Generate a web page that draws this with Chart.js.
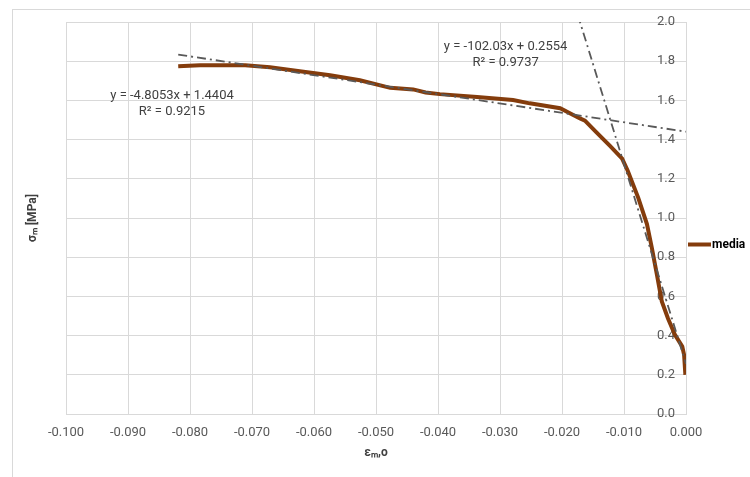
<!DOCTYPE html>
<html>
<head>
<meta charset="utf-8">
<script src="https://cdn.jsdelivr.net/npm/chart.js@4.4.1/dist/chart.umd.min.js"></script>
<style>
  html, body { margin: 0; padding: 0; background: #fff; overflow: hidden; }
  #wrap { position: relative; width: 750px; height: 477px; }
  #frame { position: absolute; left: 12px; top: 9px; width: 800px; height: 500px; border: 1px solid #d9d9d9; }
  canvas { position: absolute; left: 0; top: 0; }
</style>
</head>
<body>
<div id="wrap">
  <div id="frame"></div>
  <canvas id="chart" width="750" height="477"></canvas>
</div>
<script>
// measured curve "media" (strain, stress)
const strain = [-0.0819, -0.0784, -0.0711, -0.0671, -0.0623, -0.0574, -0.0526, -0.0477, -0.0440, -0.0420, -0.0397, -0.0337, -0.0279, -0.0252, -0.0203, -0.0171, -0.0163, -0.0144, -0.0123, -0.0103, -0.0094, -0.0077, -0.0063, -0.0055, -0.0047, -0.0039, -0.0029, -0.0018, -0.0006, -0.0003, -0.0001];
const stress = [1.774, 1.779, 1.779, 1.769, 1.749, 1.728, 1.703, 1.664, 1.656, 1.640, 1.632, 1.617, 1.602, 1.585, 1.560, 1.508, 1.497, 1.436, 1.369, 1.303, 1.241, 1.103, 0.969, 0.846, 0.713, 0.574, 0.487, 0.405, 0.344, 0.300, 0.200];

// linear trendlines (slope, intercept) over the data range
const trendSlopes = [-4.8053, -102.03];
const trendIntercepts = [1.4404, 0.2554];
const trendRange = [-0.0819, 0];
const trendLabels = [
  ['y = -4.8053x + 1.4404', 'R² = 0.9215'],
  ['y = -102.03x + 0.2554', 'R² = 0.9737']
];
const trendLabelAt = [[-0.0829, 1.626], [-0.0291, 1.872]];

const xTicks = [-0.1, 0, 0.01];   // min, max, step
const yTicks = [0, 2, 0.2];

const seriesName = 'media';
const xTitle = 'εₘ,o';
const yTitle = 'σₘ [MPa]';

const mediaColor = '#843C0C';
const gridColor = '#d9d9d9';
const tickColor = '#595959';

const mediaPts = strain.map((x, i) => ({ x: x, y: stress[i] }));
const trendSets = trendSlopes.map((m, k) => ({
  label: 'trend' + k,
  data: trendRange.map(x => ({ x: x, y: m * x + trendIntercepts[k] })),
  showLine: true,
  borderColor: '#595959',
  borderWidth: 1.8,
  borderDash: [9, 4, 2, 4],
  pointRadius: 0,
  fill: false,
  order: 0
}));

// equation labels + legend entry
const textPlugin = {
  id: 'texts',
  afterDatasetsDraw(chart) {
    const ctx = chart.ctx;
    const xs = chart.scales.x, ys = chart.scales.y;
    ctx.save();
    ctx.font = '13px Roboto';
    ctx.fillStyle = '#404040';
    ctx.textAlign = 'center';
    ctx.textBaseline = 'middle';
    trendLabels.forEach((lines, k) => {
      const px = xs.getPixelForValue(trendLabelAt[k][0]);
      const py = ys.getPixelForValue(trendLabelAt[k][1]);
      lines.forEach((t, j) => ctx.fillText(t, px, py + j * 16));
    });
    // legend
    const lx = chart.chartArea.right + 2;
    const ly = chart.height / 2 + 6;
    ctx.strokeStyle = mediaColor;
    ctx.lineWidth = 4;
    ctx.beginPath();
    ctx.moveTo(lx, ly);
    ctx.lineTo(lx + 23, ly);
    ctx.stroke();
    ctx.fillStyle = '#000';
    ctx.font = 'bold 12px Roboto';
    ctx.textAlign = 'left';
    ctx.fillText(seriesName, lx + 24, ly);
    ctx.restore();
  }
};

new Chart(document.getElementById('chart'), {
  type: 'scatter',
  data: {
    datasets: [
      {
        label: seriesName,
        data: mediaPts,
        showLine: true,
        borderColor: mediaColor,
        backgroundColor: mediaColor,
        borderWidth: 4,
        pointRadius: 0,
        tension: 0,
        fill: false,
        order: 1
      },
      ...trendSets
    ]
  },
  options: {
    responsive: false,
    animation: false,
    layout: { padding: { left: 0, right: 0, top: 22, bottom: 0 } },
    plugins: {
      tooltip: { enabled: false },
      legend: { display: false }
    },
    scales: {
      x: {
        type: 'linear',
        position: 'bottom',
        min: xTicks[0], max: xTicks[1],
        afterFit: s => { s.height = 63; },
        grid: { color: gridColor, drawTicks: false },
        border: { color: gridColor },
        ticks: {
          stepSize: xTicks[2],
          padding: 11,
          color: tickColor,
          font: { family: 'Roboto', size: 13 },
          callback: v => v.toFixed(3)
        },
        title: {
          display: true, text: xTitle, color: '#404040',
          font: { family: 'Roboto', size: 12, weight: 'bold' },
          padding: { top: 0, bottom: 17 }
        }
      },
      y: {
        type: 'linear',
        position: 'right',
        min: yTicks[0], max: yTicks[1],
        afterFit: s => { s.width = 64; },
        grid: { color: gridColor, drawTicks: false },
        border: { color: gridColor },
        ticks: {
          stepSize: yTicks[2],
          mirror: true,
          padding: -11,
          color: tickColor,
          font: { family: 'Roboto', size: 13 },
          callback: v => v.toFixed(1)
        }
      },
      yTitle: {
        type: 'linear',
        position: 'left',
        min: 0, max: 1,
        afterFit: s => { s.width = 66; },
        grid: { display: false, drawTicks: false },
        border: { display: false },
        ticks: { display: false },
        title: {
          display: true, text: yTitle, color: '#404040',
          font: { family: 'Roboto', size: 12, weight: 'bold' },
          padding: { top: 26, bottom: 0 }
        }
      }
    }
  },
  plugins: [textPlugin]
});
</script>
</body>
</html>
